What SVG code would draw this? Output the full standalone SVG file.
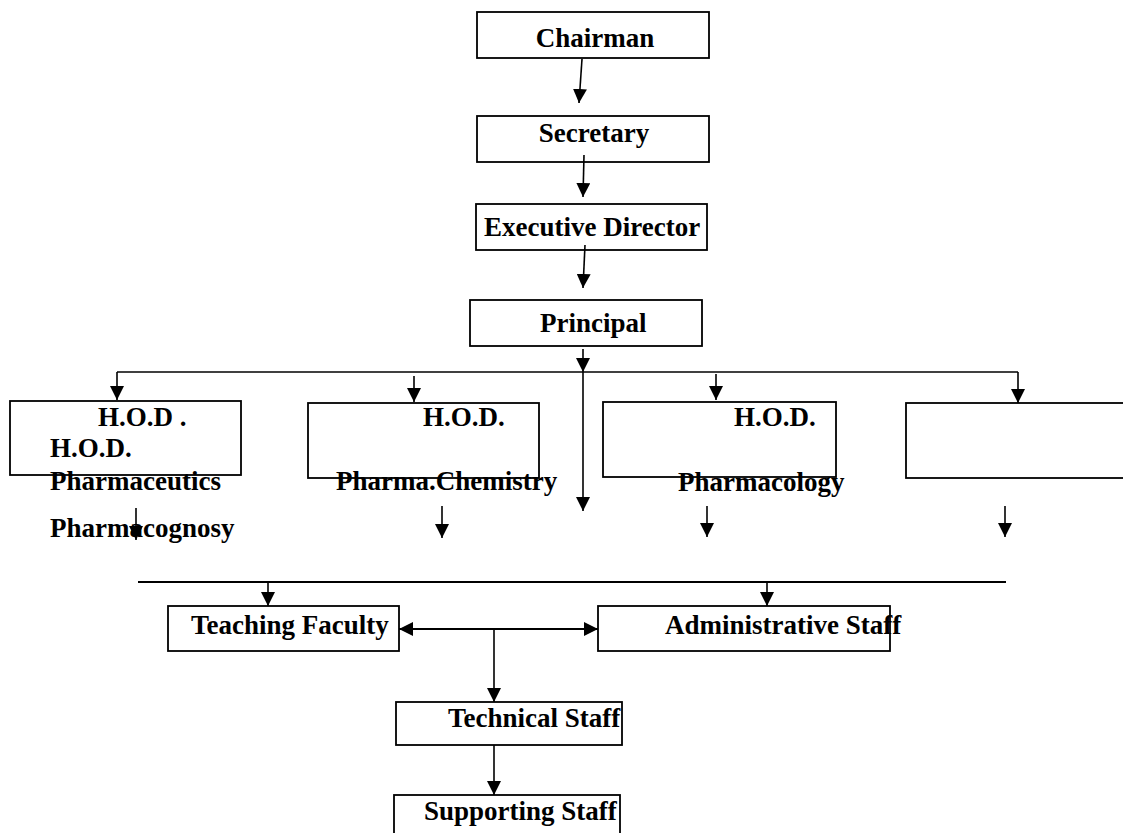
<svg xmlns="http://www.w3.org/2000/svg" width="1123" height="833" viewBox="0 0 1123 833">
<style>
.box{fill:none;stroke:#000;stroke-width:1.8}
.t{font-family:"Liberation Serif","Times New Roman",serif;font-weight:bold;font-size:27px;fill:#000}
.ln{stroke:#000;stroke-width:1.6;fill:none}
.a{stroke:#000;stroke-width:1.6;fill:none;marker-end:url(#ah)}
</style>
<defs>
<marker id="ah" viewBox="0 0 14 14" refX="14" refY="7" markerWidth="14" markerHeight="14" markerUnits="userSpaceOnUse" orient="auto-start-reverse">
<path d="M0,0 L14,7 L0,14 z" fill="#000"/>
</marker>
</defs>
<rect width="1123" height="833" fill="#fff"/>
<g id="chairman"><rect class="box" x="477" y="12" width="232" height="46"/><text class="t" x="595" y="47" text-anchor="middle">Chairman</text></g>
<g id="secretary"><rect class="box" x="477" y="116" width="232" height="46"/><text class="t" x="594" y="142" text-anchor="middle">Secretary</text></g>
<g id="executive-director"><rect class="box" x="476" y="204" width="231" height="46"/><text class="t" x="484" y="236">Executive Director</text></g>
<g id="principal"><rect class="box" x="470" y="300" width="232" height="46"/><text class="t" x="540" y="332">Principal</text></g>
<g id="hod1"><rect class="box" x="10" y="401" width="231" height="74"/><text class="t" x="98" y="426">H.O.D .</text><text class="t" x="50" y="457">H.O.D.</text><text class="t" x="50" y="490">Pharmaceutics</text><text class="t" x="50" y="537">Pharmacognosy</text></g>
<g id="hod2"><rect class="box" x="308" y="403" width="231" height="75"/><text class="t" x="423" y="426">H.O.D.</text><text class="t" x="336" y="490">Pharma.Chemistry</text></g>
<g id="hod3"><rect class="box" x="603" y="402" width="233" height="75"/><text class="t" x="734" y="426">H.O.D.</text><text class="t" x="678" y="491">Pharmacology</text></g>
<g id="hod4"><rect class="box" x="906" y="403" width="230" height="75"/></g>
<g id="teaching-faculty"><rect class="box" x="168" y="606" width="231" height="45"/><text class="t" x="191" y="634">Teaching Faculty</text></g>
<g id="administrative-staff"><rect class="box" x="598" y="606" width="292" height="45"/><text class="t" x="665" y="634">Administrative Staff</text></g>
<g id="technical-staff"><rect class="box" x="396" y="702" width="226" height="43"/><text class="t" x="448" y="727">Technical Staff</text></g>
<g id="supporting-staff"><rect class="box" x="394" y="795" width="226" height="60"/><text class="t" x="424" y="820">Supporting Staff</text></g>
<g id="connectors">
<line class="a" x1="582" y1="59" x2="579" y2="103"/>
<line class="a" x1="584" y1="155" x2="583" y2="197"/>
<line class="a" x1="585" y1="245" x2="583" y2="288"/>
<line class="a" x1="583" y1="349" x2="583" y2="372"/>
<line class="a" x1="583" y1="372" x2="583" y2="511"/>
<line class="ln" x1="117" y1="372" x2="1018" y2="372"/>
<line class="a" x1="117" y1="372" x2="117" y2="400"/>
<line class="a" x1="414" y1="376" x2="414" y2="402"/>
<line class="a" x1="716" y1="374" x2="716" y2="400"/>
<line class="a" x1="1018" y1="372" x2="1018" y2="403"/>
<line class="a" x1="136" y1="508" x2="136" y2="540"/>
<line class="a" x1="442" y1="506" x2="442" y2="538"/>
<line class="a" x1="707" y1="506" x2="707" y2="537"/>
<line class="a" x1="1005" y1="506" x2="1005" y2="537"/>
<line class="ln" x1="138" y1="582" x2="1006" y2="582" style="stroke-width:2"/>
<line class="a" x1="268" y1="582" x2="268" y2="606"/>
<line class="a" x1="767" y1="582" x2="767" y2="606"/>
<line class="a" x1="399" y1="629" x2="598" y2="629" style="marker-start:url(#ah);stroke-width:2.2"/>
<line class="a" x1="494" y1="629" x2="494" y2="702"/>
<line class="a" x1="494" y1="745" x2="494" y2="795"/>
</g>
</svg>
